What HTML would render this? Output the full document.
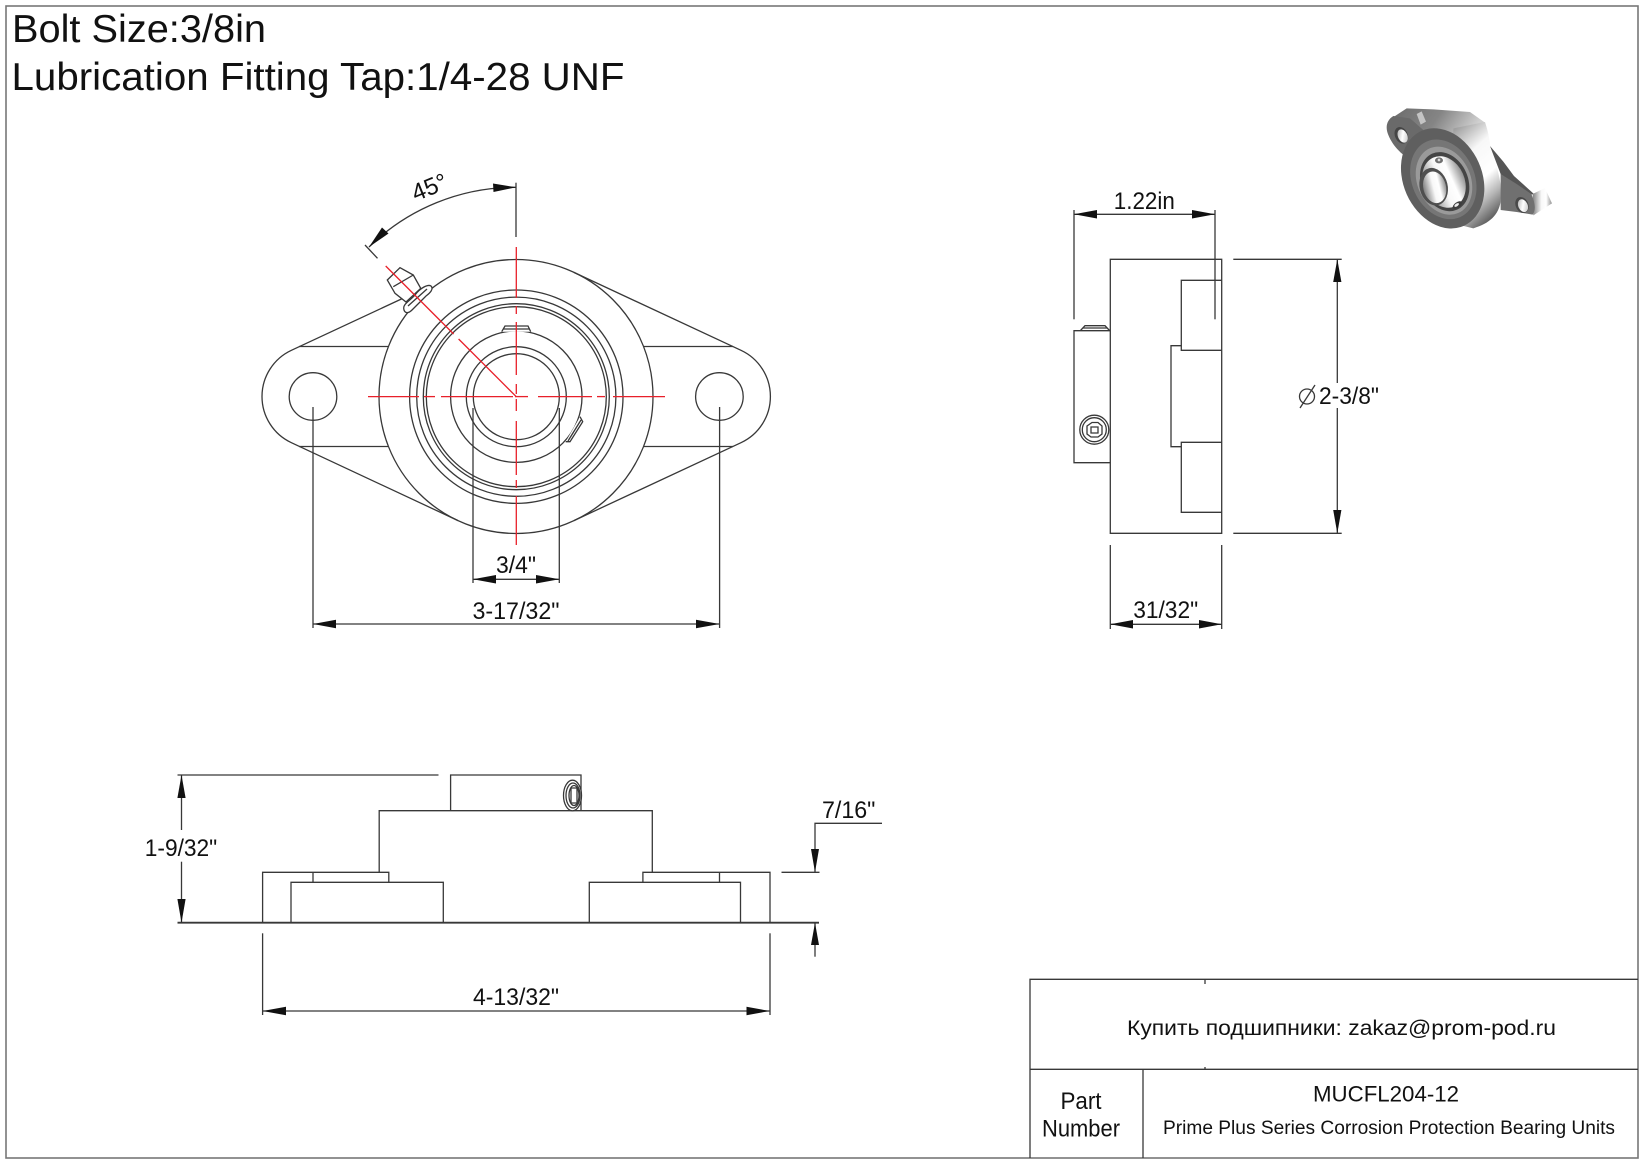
<!DOCTYPE html>
<html lang="en"><head><meta charset="utf-8"><title>MUCFL204-12</title>
<style>
html,body{margin:0;padding:0;background:#fff}
svg{display:block}
text{font-family:"Liberation Sans","Noto Sans CJK SC",sans-serif;fill:#111}
.l line,.l path,.l circle,.l polyline,.l ellipse{fill:none;stroke:#383838;stroke-width:1.3}
.l .w{fill:#fff}
.r line{stroke:#e8202a;stroke-width:1.3}
.a polygon{fill:#111;stroke:none}
.d{font-size:24px;text-anchor:middle}
</style></head><body>
<svg width="1647" height="1165" viewBox="0 0 1647 1165" xmlns="http://www.w3.org/2000/svg">
<defs>
<linearGradient id="g2" x1="0" y1="0" x2="1" y2="0.2"><stop offset="0" stop-color="#6a6a6a"/><stop offset=".55" stop-color="#858585"/><stop offset="1" stop-color="#d0d0d0"/></linearGradient>
<linearGradient id="g3" x1="0" y1="0" x2="1" y2="0"><stop offset="0" stop-color="#808080"/><stop offset=".45" stop-color="#f8f8f8"/><stop offset=".7" stop-color="#fff"/><stop offset="1" stop-color="#909090"/></linearGradient>
<linearGradient id="g4" x1="0.2" y1="0" x2="0.6" y2="1"><stop offset="0" stop-color="#a0a0a0"/><stop offset=".3" stop-color="#f8f8f8"/><stop offset=".6" stop-color="#fff"/><stop offset=".8" stop-color="#b5b5b5"/><stop offset="1" stop-color="#5c5c5c"/></linearGradient>
<linearGradient id="g5" x1="0" y1="0" x2="1" y2="1"><stop offset="0" stop-color="#aaa"/><stop offset=".5" stop-color="#fff"/><stop offset="1" stop-color="#bbb"/></linearGradient>
<filter id="b" x="-5%" y="-5%" width="110%" height="110%"><feGaussianBlur stdDeviation="1"/></filter>
</defs>
<rect width="1647" height="1165" fill="#fff"/>
<rect x="6" y="6" width="1632" height="1152" fill="none" stroke="#777" stroke-width="1.6"/>

<text x="12" y="42" font-size="39" textLength="254" lengthAdjust="spacingAndGlyphs">Bolt Size:3/8in</text>
<text x="11.5" y="90" font-size="39" textLength="613" lengthAdjust="spacingAndGlyphs">Lubrication Fitting Tap:1/4-28 UNF</text>

<!-- front view -->
<g class="l">
<circle cx="516" cy="396.5" r="137"/>
<circle cx="516.3" cy="396.7" r="106.7"/>
<circle cx="516.3" cy="396.7" r="99.6"/>
<circle cx="516.3" cy="396.7" r="93"/>
<circle cx="516.3" cy="396.7" r="90"/>
<circle cx="516.3" cy="396.7" r="65.7"/>
<circle cx="516.3" cy="396.7" r="50"/>
<circle cx="516.3" cy="396.7" r="43"/>
<circle cx="313" cy="396.5" r="23.8"/>
<circle cx="719.4" cy="396.5" r="23.8"/>
<path d="M402.5 298.5 L291.4 350.3 A51 51 0 0 0 291.4 442.7 L458.1 520.6"/>
<path d="M573.9 272.4 L741 350.3 A51 51 0 0 1 741 442.7 L573.9 520.6"/>
<line x1="299" y1="346.5" x2="388" y2="346.5"/>
<line x1="643.6" y1="346.5" x2="733" y2="346.5"/>
<line x1="299" y1="446.5" x2="388" y2="446.5"/>
<line x1="643.6" y1="446.5" x2="733" y2="446.5"/>
<path class="w" d="M501.7 331.7 L505 326 H528 L530.7 331.7"/>
<line x1="503" y1="329" x2="529" y2="329"/>
<path class="w" d="M565.7 441.7 L570 441.7 L582.7 421.7 L580 416.7"/>
<line x1="568" y1="441" x2="581" y2="420"/>
<path class="w" d="M387.3 280 L400 267.7 L413.3 275 L420.7 288.3 L406 302 L395 293.3 Z"/>
<line x1="393.3" y1="286.7" x2="413.3" y2="275"/>
<path class="w" d="M404 310 C402 304 410 301 415 295 C420 288 428 284 431 286 C434 289 430 293 426 296 L412 310 C408 314 405 313 404 310 Z"/>
<path d="M408 306 L427 289"/>
<!-- dimension lines -->
<line x1="516" y1="182.7" x2="516" y2="237"/>
<line x1="365" y1="245" x2="377.5" y2="258.3"/>
<path d="M516 187.3 A209 209 0 0 0 369 247"/>
<line x1="473" y1="408" x2="473" y2="583"/>
<line x1="559.3" y1="408" x2="559.3" y2="583"/>
<line x1="473" y1="579.3" x2="559.3" y2="579.3"/>
<line x1="313" y1="407" x2="313" y2="628"/>
<line x1="719.6" y1="407" x2="719.6" y2="628"/>
<line x1="313" y1="624" x2="719.6" y2="624"/>
</g>
<g class="r">
<line x1="516.3" y1="247" x2="516.3" y2="298"/><line x1="516.3" y1="306" x2="516.3" y2="314"/><line x1="516.3" y1="322" x2="516.3" y2="375"/><line x1="516.3" y1="384" x2="516.3" y2="394"/>
<line x1="516.3" y1="399" x2="516.3" y2="411"/><line x1="516.3" y1="421" x2="516.3" y2="475"/><line x1="516.3" y1="480" x2="516.3" y2="488"/><line x1="516.3" y1="496" x2="516.3" y2="545"/>
<line x1="368" y1="396.6" x2="419" y2="396.6"/><line x1="424" y1="396.6" x2="435" y2="396.6"/><line x1="441" y1="396.6" x2="513" y2="396.6"/>
<line x1="515" y1="396.6" x2="528" y2="396.6"/><line x1="538" y1="396.6" x2="592" y2="396.6"/><line x1="597" y1="396.6" x2="605" y2="396.6"/><line x1="613" y1="396.6" x2="665" y2="396.6"/>
<line x1="385.7" y1="266" x2="453.6" y2="334"/><line x1="458.6" y1="339" x2="516.3" y2="396.7"/>
</g>
<g class="a">
<polygon points="516,187.3 493,183.5 493.5,192"/>
<polygon points="369,247 388.5,233.5 382,227.5"/>
<polygon points="473,579.3 496,575 496,583.5"/>
<polygon points="559.3,579.3 536,575 536,583.5"/>
<polygon points="313,624 336,619.7 336,628.3"/>
<polygon points="719.6,624 696,619.7 696,628.3"/>
</g>
<text class="d" transform="translate(432.5 194.7) rotate(-22)">45°</text>
<text class="d" x="516" y="573" textLength="40" lengthAdjust="spacingAndGlyphs">3/4"</text>
<text class="d" x="516" y="619" textLength="87" lengthAdjust="spacingAndGlyphs">3-17/32"</text>

<!-- side view -->
<g class="l">
<path d="M1110.3 259.3 H1221.7 V533.3 H1110.3 Z"/>
<path d="M1221.7 280.3 H1181.3 V350.3 H1221.7"/>
<path d="M1181.3 345.7 H1171 V446.7 H1181.3"/>
<path d="M1221.7 442.3 H1181.3 V512.3 H1221.7"/>
<path d="M1110.3 330.7 H1074 V462.7 H1110.3"/>
<path d="M1080.5 330.5 L1085 325.7 H1105 L1109.5 330.5"/>
<line x1="1083" y1="328" x2="1107" y2="328"/>
<line x1="1074" y1="210" x2="1074" y2="319.3"/>
<line x1="1215" y1="210" x2="1215" y2="319.3"/>
<line x1="1074" y1="214.3" x2="1215" y2="214.3"/>
<circle cx="1094.3" cy="429.7" r="14.5"/>
<circle cx="1094.3" cy="429.7" r="12"/>
<path d="M1087 426 L1092 422.5 H1098 L1102 426 V434 L1098 437 H1091 L1087 434 Z"/>
<path d="M1091 427 H1098 V433 H1091 Z"/>
<line x1="1233.3" y1="259.3" x2="1341.7" y2="259.3"/>
<line x1="1233.3" y1="533.3" x2="1341.7" y2="533.3"/>
<line x1="1337.3" y1="259.3" x2="1337.3" y2="383"/>
<line x1="1337.3" y1="408" x2="1337.3" y2="533.3"/>
<line x1="1110.3" y1="545" x2="1110.3" y2="629"/>
<line x1="1221.7" y1="545" x2="1221.7" y2="629"/>
<line x1="1110.3" y1="624.3" x2="1221.7" y2="624.3"/>
<circle cx="1307" cy="396.5" r="7.5"/>
<line x1="1300" y1="408" x2="1315" y2="385"/>
</g>
<g class="a">
<polygon points="1074,214.3 1097,210 1097,218.5"/>
<polygon points="1215,214.3 1192,210 1192,218.5"/>
<polygon points="1337.3,259.3 1333.2,282 1341.4,282"/>
<polygon points="1337.3,533.3 1333.2,510 1341.4,510"/>
<polygon points="1110.3,624.3 1133,620 1133,628.5"/>
<polygon points="1221.7,624.3 1199,620 1199,628.5"/>
</g>
<text class="d" x="1144.3" y="209" textLength="61" lengthAdjust="spacingAndGlyphs">1.22in</text>
<text class="d" x="1349" y="404" textLength="60" lengthAdjust="spacingAndGlyphs">2-3/8"</text>
<text class="d" x="1165.7" y="618" textLength="65" lengthAdjust="spacingAndGlyphs">31/32"</text>

<!-- bottom view -->
<g class="l">
<line x1="177.5" y1="775" x2="438.5" y2="775"/>
<path d="M450.6 810.7 V775 H581 V810.7"/>
<path d="M379.2 872.3 V810.7 H652.3 V872.3"/>
<line x1="177.5" y1="922.7" x2="819" y2="922.7" style="stroke-width:1.8"/>
<path d="M262.6 922.7 V872.3 H388.8 V882.3"/>
<line x1="313" y1="872.3" x2="313" y2="882.3"/>
<path d="M291 922.7 V882.3 H443.3 V922.7"/>
<path d="M770 922.7 V872.3 H642.9 V882.3"/>
<line x1="719.5" y1="872.3" x2="719.5" y2="882.3"/>
<path d="M589.3 922.7 V882.3 H740.5 V922.7"/>
<ellipse class="w" cx="572.5" cy="795.5" rx="9" ry="15.3"/>
<ellipse cx="573" cy="795.5" rx="7" ry="12.5"/>
<ellipse cx="574" cy="795.5" rx="5" ry="10"/>
<path d="M571 788 H577 V803 H571 Z"/>
<line x1="181.5" y1="775" x2="181.5" y2="830"/>
<line x1="181.5" y1="861.7" x2="181.5" y2="922.7"/>
<path d="M882 823.3 H815 V872.3"/>
<line x1="781.5" y1="872.3" x2="819.5" y2="872.3"/>
<line x1="815" y1="922.7" x2="815" y2="956.7"/>
<line x1="262.6" y1="933.3" x2="262.6" y2="1015"/>
<line x1="770" y1="933.3" x2="770" y2="1015"/>
<line x1="262.6" y1="1011" x2="770" y2="1011"/>
</g>
<g class="a">
<polygon points="181.5,775 177.4,798 185.6,798"/>
<polygon points="181.5,922.7 177.4,899 185.6,899"/>
<polygon points="815,872.3 811,849 819,849"/>
<polygon points="815,922.7 811,945 819,945"/>
<polygon points="262.6,1011 286,1006.8 286,1015.2"/>
<polygon points="770,1011 746.5,1006.8 746.5,1015.2"/>
</g>
<text class="d" x="181" y="856" textLength="72.5" lengthAdjust="spacingAndGlyphs">1-9/32"</text>
<text class="d" x="848.7" y="818" textLength="53.5" lengthAdjust="spacingAndGlyphs">7/16"</text>
<text class="d" x="516" y="1005" textLength="86" lengthAdjust="spacingAndGlyphs">4-13/32"</text>

<!-- 3D view -->
<g transform="translate(1370 90) scale(.3333)" filter="url(#b)">
<!-- top plate -->
<path d="M110 55 L60 88 L130 135 L260 135 L345 98 L300 66 L190 58 Z" fill="url(#g2)"/>
<!-- drum -->
<path d="M250 115 L345 96 C358 135 360 160 362 180 C385 235 398 290 392 335 C385 375 360 400 310 415 L250 400 Z" fill="url(#g4)"/>
<!-- right ear back + web -->
<path d="M360 168 L400 215 L432 258 L492 312 L440 322 L395 260 Z" fill="#555"/>
<!-- tip -->
<path d="M488 312 L525 294 L546 340 L490 376 Z" fill="url(#g3)"/>
<!-- right ear face -->
<path d="M392 252 L440 282 L484 312 C496 340 498 360 488 374 L440 366 L392 360 Z" fill="#707070"/>
<ellipse cx="456" cy="345" rx="19" ry="25" transform="rotate(-25 456 345)" fill="#4a4a4a"/>
<ellipse cx="459" cy="347" rx="14" ry="20" transform="rotate(-25 459 347)" fill="url(#g5)"/>
<!-- left ear -->
<path d="M70 78 C50 90 45 112 55 135 C65 160 85 185 108 200 L160 120 L120 85 Z" fill="#6a6a6a"/>
<ellipse cx="94" cy="136" rx="19" ry="26" transform="rotate(-25 94 136)" fill="#454545"/>
<ellipse cx="98" cy="138" rx="14" ry="21" transform="rotate(-25 98 138)" fill="url(#g5)"/>
<!-- face -->
<ellipse cx="218" cy="265" rx="118" ry="156" transform="rotate(-24 218 265)" fill="#5f5f5f"/>
<ellipse cx="220" cy="268" rx="94" ry="124" transform="rotate(-24 220 268)" fill="#767676"/>
<ellipse cx="222" cy="272" rx="80" ry="106" transform="rotate(-24 222 272)" fill="#9a9a9a"/>
<ellipse cx="224" cy="275" rx="70" ry="92" transform="rotate(-24 224 275)" fill="#454545"/>
<ellipse cx="222" cy="276" rx="62" ry="80" transform="rotate(-24 222 276)" fill="url(#g3)"/>
<ellipse cx="191" cy="290" rx="42" ry="57" transform="rotate(-14 191 290)" fill="#505050"/>
<ellipse cx="194" cy="292" rx="34" ry="48" transform="rotate(-14 194 292)" fill="url(#g3)"/>
<ellipse cx="207" cy="211" rx="12" ry="9" fill="#707070"/>
<circle cx="207" cy="210" r="4" fill="#ddd"/>
<ellipse cx="262" cy="345" rx="16" ry="8" transform="rotate(-35 262 345)" fill="#3c3c3c"/>
<ellipse cx="260" cy="345" rx="8" ry="4" transform="rotate(-35 260 345)" fill="#eee"/>
<!-- grease fitting -->
<path d="M140 72 L155 64 L168 95 L152 104 Z" fill="#c4c4c4"/>
</g>

<!-- title block -->
<g class="l">
<path d="M1638 979.3 H1030 V1158"/>
<line x1="1030" y1="1069.3" x2="1638" y2="1069.3"/>
<line x1="1143" y1="1069.3" x2="1143" y2="1158"/>
<line x1="1205" y1="979.3" x2="1205" y2="984"/>
<line x1="1205" y1="1067" x2="1205" y2="1069.3"/>
</g>
<text x="1127" y="1035" font-size="21" textLength="429" lengthAdjust="spacingAndGlyphs">Купить подшипники: zakaz@prom-pod.ru</text>
<text x="1313" y="1101.7" font-size="22" textLength="146" lengthAdjust="spacingAndGlyphs">MUCFL204-12</text>
<text x="1163" y="1134" font-size="19" textLength="452" lengthAdjust="spacingAndGlyphs">Prime Plus Series Corrosion Protection Bearing Units</text>
<text x="1081" y="1109" font-size="24" text-anchor="middle" textLength="41" lengthAdjust="spacingAndGlyphs">Part</text>
<text x="1081" y="1136.7" font-size="24" text-anchor="middle" textLength="78" lengthAdjust="spacingAndGlyphs">Number</text>
</svg>
</body></html>
